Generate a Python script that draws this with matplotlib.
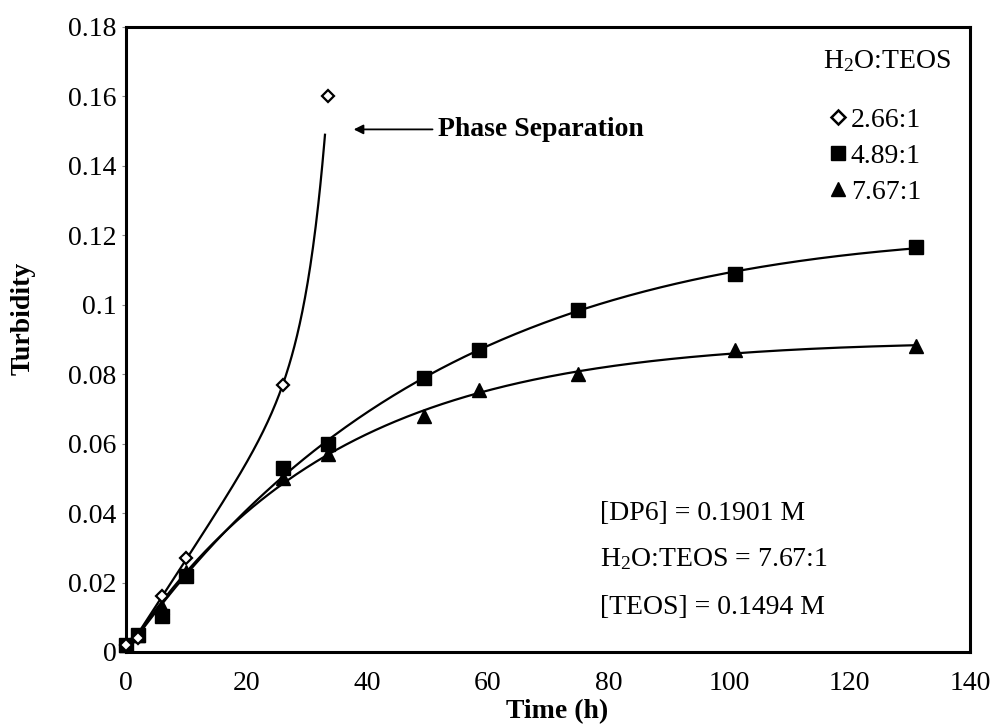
import numpy as np
import matplotlib
matplotlib.use("Agg")
import matplotlib.pyplot as plt
from matplotlib.lines import Line2D

plt.rcParams['font.family'] = ['Liberation Serif', 'DejaVu Serif']
plt.rcParams['mathtext.fontset'] = 'custom'
plt.rcParams['mathtext.rm'] = 'Liberation Serif'
plt.rcParams['mathtext.it'] = 'Liberation Serif:italic'
plt.rcParams['mathtext.bf'] = 'Liberation Serif:bold'

# ---- data ----
time_266 = np.array([0, 2, 6, 10, 26, 33.5])
turb_266 = np.array([0.002, 0.004, 0.016, 0.027, 0.077, 0.160])

time_all = np.array([0, 2, 6, 10, 26, 33.5, 49.5, 58.5, 75, 101, 131])
turb_489 = np.array([0.002, 0.005, 0.0105, 0.022, 0.053, 0.060, 0.079, 0.087, 0.0985, 0.109, 0.1165])
turb_767 = np.array([0.002, 0.005, 0.013, 0.023, 0.050, 0.057, 0.068, 0.0755, 0.080, 0.087, 0.088])

labels = ['2.66:1', '4.89:1', '7.67:1']
x_ticks = [0, 20, 40, 60, 80, 100, 120, 140]
x_ticklabels = ['0', '20', '40', '60', '80', '100', '120', '140']
y_ticks = [0, 0.02, 0.04, 0.06, 0.08, 0.1, 0.12, 0.14, 0.16, 0.18]
y_ticklabels = ['0', '0.02', '0.04', '0.06', '0.08', '0.1', '0.12', '0.14', '0.16', '0.18']
info_lines = ['[DP6] = 0.1901 M', 'H$_\\mathregular{2}$O:TEOS = 7.67:1', '[TEOS] = 0.1494 M']


def fit_saturating(t, y):
    best = None
    for k in np.linspace(0.003, 0.2, 600):
        X = np.column_stack([1 - np.exp(-k * t), t])
        coef, *_ = np.linalg.lstsq(X, y, rcond=None)
        err = np.sum((X @ coef - y) ** 2)
        if best is None or err < best[0]:
            best = (err, k, coef)
    _, k, coef = best
    return lambda tt: coef[0] * (1 - np.exp(-k * tt)) + coef[1] * tt


def fit_accelerating(t, y):
    best = None
    for c in np.linspace(0.02, 0.5, 800):
        X = np.column_stack([t, np.exp(c * t) - 1])
        coef, *_ = np.linalg.lstsq(X, y, rcond=None)
        err = np.sum((X @ coef - y) ** 2)
        if best is None or err < best[0]:
            best = (err, c, coef)
    _, c, coef = best
    return lambda tt: coef[0] * tt + coef[1] * (np.exp(c * tt) - 1)


fig = plt.figure(figsize=(9.97, 7.25), dpi=100)
ax = fig.add_axes([0.1264, 0.1007, 0.8466, 0.8621])

# trend curves
f266 = fit_accelerating(time_266, turb_266)
tt = np.linspace(0, 33, 300)
ax.plot(tt, f266(tt), color='black', lw=1.6, zorder=2)

f489 = fit_saturating(time_all, turb_489)
f767 = fit_saturating(time_all, turb_767)
tt2 = np.linspace(0, 131, 400)
ax.plot(tt2, f489(tt2), color='black', lw=1.6, zorder=2)
ax.plot(tt2, f767(tt2), color='black', lw=1.6, zorder=2)

# markers
ax.plot(time_all, turb_767, linestyle='none', marker='^', ms=10, color='black', zorder=3, clip_on=False)
ax.plot(time_all, turb_489, linestyle='none', marker='s', ms=9.5, color='black', zorder=4, clip_on=False)
ax.plot(time_266, turb_266, linestyle='none', marker='D', ms=6.5, mfc='white', mec='black', mew=1.6, zorder=5, clip_on=False)

ax.set_xlim(0, 140)
ax.set_ylim(0, 0.18)
ax.set_xticks(x_ticks)
ax.set_xticklabels(x_ticklabels)
ax.set_yticks(y_ticks)
ax.set_yticklabels(y_ticklabels)
ax.tick_params(axis='x', length=0, pad=14, labelsize=20)
ax.tick_params(axis='y', length=3, width=0.8, color='#888888', pad=4, labelsize=20)
for s in ax.spines.values():
    s.set_linewidth(2.2)

fig.text(0.5587, 0.019, 'Time (h)', fontsize=20, fontweight='bold', ha='center', va='center')
fig.text(0.023, 0.561, 'Turbidity', fontsize=20, fontweight='bold', ha='center', va='center', rotation=90)

# phase separation arrow
ax.annotate('', xy=(37.3, 0.1505), xytext=(51.3, 0.1505),
            arrowprops=dict(arrowstyle='-|>', lw=1.3, color='black', mutation_scale=14))
ax.text(51.8, 0.1505, 'Phase Separation', fontsize=20, fontweight='bold', ha='left', va='center')

# legend
ax.text(0.978, 0.945, 'H$_\\mathregular{2}$O:TEOS', transform=ax.transAxes, fontsize=20, ha='right', va='center')
handles = [
    Line2D([], [], linestyle='none', marker='D', ms=7, mfc='white', mec='black', mew=1.8),
    Line2D([], [], linestyle='none', marker='s', ms=10, color='black'),
    Line2D([], [], linestyle='none', marker='^', ms=10.5, color='black'),
]
ax.legend(handles, labels, loc='upper left', bbox_to_anchor=(0.834, 0.871), frameon=False,
          fontsize=20, handlelength=0.6, handletextpad=0.15, labelspacing=0.38, borderpad=0,
          borderaxespad=0)

# info text
for yv, line in zip([0.040, 0.0268, 0.0128], info_lines):
    ax.text(78.6, yv, line, fontsize=20, ha='left', va='center')

fig.savefig('out.png', dpi=100)
